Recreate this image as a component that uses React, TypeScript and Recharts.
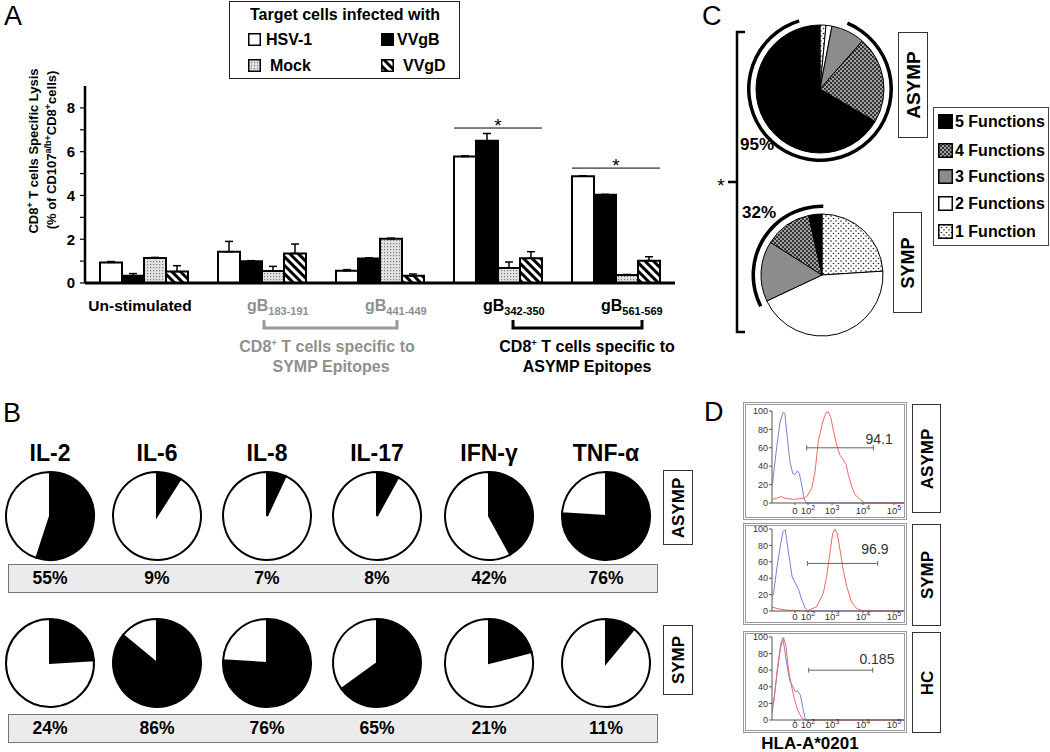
import React from 'react';
import {
  BarChart, Bar, XAxis, YAxis, ErrorBar, LabelList,
  PieChart, Pie, Cell,
  LineChart, Line, ReferenceLine, ReferenceDot,
} from 'recharts';

const FONT = '"Liberation Sans", Arial, Helvetica, sans-serif';

// ---------------- Panel A data ----------------
const groups = ['Un-stimulated', 'gB183-191', 'gB441-449', 'gB342-350', 'gB561-569'];
const groupSub = ['', '183-191', '441-449', '342-350', '561-569'];
const groupColor = ['#000', '#8f8f8f', '#8f8f8f', '#000', '#000'];
const hsv1 = [0.94, 1.43, 0.56, 5.78, 4.88];
const hsv1Err = [0.04, 0.47, 0.05, 0.03, 0.02];
const vvgb = [0.33, 0.99, 1.12, 6.5, 4.03];
const vvgbErr = [0.1, 0.03, 0.03, 0.33, 0.02];
const mock = [1.14, 0.55, 2.02, 0.68, 0.37];
const mockErr = [0.03, 0.21, 0.03, 0.28, 0.02];
const vvgd = [0.52, 1.35, 0.33, 1.13, 1.02];
const vvgdErr = [0.27, 0.43, 0.08, 0.3, 0.18];
const sigLevel = [null, null, null, 7.08, 5.25];
const lysisTicks = [0, 1, 2, 3, 4, 5, 6, 7, 8];

// ---------------- Panel B data ----------------
const cytokines = ['IL-2', 'IL-6', 'IL-8', 'IL-17', 'IFN-γ', 'TNF-α'];
const asympPct = [55, 9, 7, 8, 42, 76];
const sympPct = [24, 86, 76, 65, 21, 11];

// ---------------- Panel C data ----------------
const funcLabels = ['5 Functions', '4 Functions', '3 Functions', '2 Functions', '1 Function'];
const funcFills = ['#000', 'url(#pCheck)', '#8c8c8c', '#fff', 'url(#pDots)'];
const asympFunc = [66.5, 22, 8.5, 1.5, 1.5];
const sympFunc = [3.5, 12.5, 16, 44, 24];
const asympArc = 89;
const sympArc = 32.8;
const asympArcLabel = '95%';
const sympArcLabel = '32%';

// ---------------- Panel D data ----------------
const flowYTicks = [0, 20, 40, 60, 80, 100];
const flowXTicks = [174, 273, 455, 689, 924];
const flowXExp = ['', '2', '3', '4', '5'];
const asympBlueX = [3, 35, 61, 86, 98, 111, 136, 157, 174, 192, 207, 225, 242, 258, 1000];
const asympBlueY = [20, 60, 88, 99, 97, 78, 45, 32, 31, 35, 32, 20, 5, 0, 0];
const asympRedX = [3, 35, 73, 98, 162, 237, 263, 301, 326, 351, 384, 409, 427, 444, 465, 490, 515, 540, 561, 578, 604, 629, 667, 705, 1000];
const asympRedY = [4, 5, 7, 5, 4, 5, 7, 16, 34, 67, 88, 98, 99, 94, 79, 63, 52, 47, 42, 31, 18, 9, 4, 0, 0];
const sympBlueX = [0, 13, 38, 63, 83, 101, 114, 134, 152, 177, 202, 227, 253, 268, 1000];
const sympBlueY = [18, 22, 54, 79, 97, 99, 83, 62, 42, 34, 26, 13, 3, 0, 0];
const sympRedX = [0, 38, 114, 263, 338, 389, 414, 439, 460, 477, 495, 515, 540, 566, 603, 641, 692, 1000];
const sympRedY = [5, 3, 1, 0, 5, 22, 42, 71, 95, 100, 94, 75, 50, 30, 11, 3, 0, 0];
const hcBlueX = [0, 13, 38, 63, 81, 96, 114, 134, 152, 177, 194, 215, 235, 253, 1000];
const hcBlueY = [18, 22, 56, 85, 99, 85, 65, 48, 42, 34, 35, 30, 14, 0, 0];
const hcRedX = [0, 18, 43, 68, 88, 106, 126, 146, 169, 194, 227, 253, 1000];
const hcRedY = [8, 28, 65, 93, 99, 89, 60, 42, 26, 12, 2, 0, 0];
const flowGroups = ['ASYMP', 'SYMP', 'HC'];
const gateStart = [263, 268, 278];
const gateEnd = [768, 801, 763];
const gateLevel = [60, 58, 60];
const gateText = ['94.1', '96.9', '0.185'];
const gateTextX = [811, 780, 795];
const gateTextY = [70, 75, 73];

const zip = (xs: number[], ys: number[]) => xs.map((x, i) => ({ x, y: ys[i] }));

const barRows = groups.map((g, i) => ({
  group: g,
  hsv1: hsv1[i], hsv1E: [0, hsv1Err[i]],
  vvgb: vvgb[i], vvgbE: [0, vvgbErr[i]],
  mock: mock[i], mockE: [0, mockErr[i]],
  vvgd: vvgd[i], vvgdE: [0, vvgdErr[i]],
  sig: sigLevel[i],
}));

// ---------- helpers ----------
const Txt = ({ x, y, size = 16, weight = 'bold', color = '#000', anchor = 'middle', children, family = FONT }: any) => (
  <div style={{
    position: 'absolute', left: x, top: y, whiteSpace: 'nowrap', lineHeight: 1,
    transform: `translate(${anchor === 'middle' ? '-50%' : '0'}, -50%)`,
    fontSize: size, fontWeight: weight, color, fontFamily: family,
  }}>{children}</div>
);

const VBox = ({ left, top, width, height, text, size = 17 }: any) => (
  <div style={{
    position: 'absolute', left, top, width, height, boxSizing: 'border-box',
    border: '1.5px solid #333', background: '#fff',
  }}>
    <div style={{
      position: 'absolute', left: '50%', top: '50%', whiteSpace: 'nowrap', lineHeight: 1,
      transform: 'translate(-50%, -50%) rotate(-90deg)', fontSize: size, fontWeight: 'bold', fontFamily: FONT,
    }}>{text}</div>
  </div>
);

const Swatch = ({ fill, size = 13 }: any) => (
  <svg width={size} height={size} style={{ position: 'absolute', left: 0, top: 0 }}>
    <rect x={0.75} y={0.75} width={size - 1.5} height={size - 1.5} fill={fill} stroke="#000" strokeWidth={1.5} />
  </svg>
);

const SwatchAt = ({ left, top, fill, size = 13 }: any) => (
  <div style={{ position: 'absolute', left, top, width: size, height: size }}>
    <Swatch fill={fill} size={size} />
  </div>
);

const Sup = ({ children }: any) => (
  <sup style={{ fontSize: '0.6em', verticalAlign: '0.6em', lineHeight: 0 }}>{children}</sup>
);

const SigMark = (props: any) => {
  const { index, value } = props;
  const vb = props.viewBox || props;
  if (value == null || index == null || !vb || vb.height == null) return null;
  const base = vb.y + vb.height;
  const ppu = vb.height / hsv1[index];
  const ly = base - value * ppu;
  const x1 = vb.x;
  const x2 = vb.x + vb.width * 4;
  return (
    <g>
      <line x1={x1} x2={x2} y1={ly} y2={ly} stroke="#000" strokeWidth={1} />
      <text x={(x1 + x2) / 2} y={ly + 4} textAnchor="middle" fontSize={19} fontFamily={FONT} fill="#000">*</text>
    </g>
  );
};

const GroupTick = (props: any) => {
  const { x, y, payload } = props;
  const i = groups.indexOf(payload.value);
  if (i === 0) {
    return (
      <text x={x - 4} y={y + 20} textAnchor="middle" fontSize={15.5} fontWeight="bold" fontFamily={FONT} fill="#000">
        {groups[0]}
      </text>
    );
  }
  return (
    <text x={x - 15} y={y + 20} fontWeight="bold" fontFamily={FONT} fill={groupColor[i]}>
      <tspan fontSize={16}>gB</tspan>
      <tspan fontSize={11} dy={4}>{groupSub[i]}</tspan>
    </text>
  );
};

const makeFlowXTick = (off: number) => (props: any) => {
  const { x, y, payload } = props;
  const i = flowXTicks.indexOf(payload.value);
  const e = flowXExp[i];
  return (
    <text x={x} y={y + off} textAnchor="middle" fontSize={9.5} fill="#333" fontFamily={FONT}>
      {e ? (<>10<tspan dy={-4} fontSize={7}>{e}</tspan></>) : '0'}
    </text>
  );
};

const flowSeries = [
  { blue: zip(asympBlueX, asympBlueY), red: zip(asympRedX, asympRedY) },
  { blue: zip(sympBlueX, sympBlueY), red: zip(sympRedX, sympRedY) },
  { blue: zip(hcBlueX, hcBlueY), red: zip(hcRedX, hcRedY) },
];
const flowLayout = [
  { top: 402, height: 118, mt: 9, axisH: 17, off: 8 },
  { top: 523, height: 102, mt: 6, axisH: 14, off: 6 },
  { top: 631, height: 102, mt: 6, axisH: 13, off: 5 },
];
const flowLabelBox = [
  { top: 404, height: 109 },
  { top: 524, height: 102 },
  { top: 632, height: 101 },
];

const FlowPlot = ({ i }: any) => {
  const L = flowLayout[i];
  const S = flowSeries[i];
  const g0 = gateStart[i], g1 = gateEnd[i], gy = gateLevel[i];
  const TickC = makeFlowXTick(L.off);
  return (
    <>
      <div style={{ position: 'absolute', left: 743, top: L.top, width: 164, height: L.height }}>
        <LineChart width={164} height={L.height} margin={{ top: L.mt, right: 3, bottom: 0, left: 0 }}>
          <XAxis type="number" dataKey="x" domain={[0, 1000]} ticks={flowXTicks} tick={<TickC />}
            height={L.axisH} tickSize={2} tickMargin={1} interval={0}
            tickLine={{ stroke: '#555' }} axisLine={{ stroke: '#555' }} allowDataOverflow />
          <YAxis type="number" domain={[0, 100]} ticks={flowYTicks} width={29} interval={0}
            tick={{ fontSize: 9, fill: '#333', fontFamily: FONT }} tickSize={3} tickMargin={1}
            axisLine={{ stroke: '#555' }} tickLine={{ stroke: '#555' }} />
          <Line data={S.blue} dataKey="y" type="linear" stroke="#7b7fd4" strokeWidth={1} dot={false} isAnimationActive={false} />
          <Line data={S.red} dataKey="y" type="linear" stroke="#f06868" strokeWidth={1} dot={false} isAnimationActive={false} />
          <ReferenceLine segment={[{ x: g0, y: gy }, { x: g1, y: gy }]} stroke="#666" strokeWidth={1} />
          <ReferenceLine segment={[{ x: g0, y: gy - 3 }, { x: g0, y: gy + 3 }]} stroke="#666" strokeWidth={1} />
          <ReferenceLine segment={[{ x: g1, y: gy - 3 }, { x: g1, y: gy + 3 }]} stroke="#666" strokeWidth={1} />
          <ReferenceDot x={gateTextX[i]} y={gateTextY[i]} r={1} fill="none" stroke="none"
            label={{ value: gateText[i], position: 'center', fontSize: 14, fill: '#333', fontFamily: FONT }} />
        </LineChart>
      </div>
      <div style={{
        position: 'absolute', left: 743, top: L.top, width: 164, height: L.height, boxSizing: 'border-box',
        border: '3px double #9a9a9a', pointerEvents: 'none',
      }} />
      <VBox left={912} top={flowLabelBox[i].top} width={29} height={flowLabelBox[i].height} text={flowGroups[i]} size={17} />
    </>
  );
};

const bPieX = [50, 157, 267, 377, 489, 606];

export default function App() {
  const cPie = (vals: number[]) =>
    [4, 3, 2, 1, 0].map((k) => ({ name: funcLabels[k], v: vals[k], fill: funcFills[k] }));
  return (
    <div style={{ position: 'absolute', left: 0, top: 0, width: 1050, height: 752, background: '#fff', overflow: 'hidden', fontFamily: FONT }}>
      <svg width={0} height={0} style={{ position: 'absolute' }}>
        <defs>
          <pattern id="pMock" width={3} height={3} patternUnits="userSpaceOnUse">
            <rect width={3} height={3} fill="#e2e2e2" />
            <rect width={1.2} height={1.2} fill="#7a7a7a" />
          </pattern>
          <pattern id="pHatch" width={6} height={6} patternUnits="userSpaceOnUse" patternTransform="rotate(-45)">
            <rect width={6} height={6} fill="#fff" />
            <rect width={3} height={6} fill="#000" />
          </pattern>
          <pattern id="pCheck" width={4} height={4} patternUnits="userSpaceOnUse">
            <rect width={4} height={4} fill="#a0a0a0" />
            <rect width={2} height={2} fill="#333" />
            <rect x={2} y={2} width={2} height={2} fill="#333" />
          </pattern>
          <pattern id="pDots" width={5} height={5} patternUnits="userSpaceOnUse">
            <rect width={5} height={5} fill="#fff" />
            <circle cx={1} cy={1} r={0.8} fill="#222" />
            <circle cx={3.5} cy={3.5} r={0.8} fill="#222" />
          </pattern>
        </defs>
      </svg>

      {/* ================= Panel A ================= */}
      <Txt x={4} y={16} size={27} weight="normal" anchor="start">A</Txt>
      <div style={{ position: 'absolute', left: 0, top: 0 }}>
        <BarChart width={700} height={330} data={barRows} margin={{ top: 86, right: 25, bottom: 7, left: 0 }}
          barCategoryGap={15} barGap={0}>
          <XAxis dataKey="group" height={40} tickLine={false} axisLine={{ stroke: '#000', strokeWidth: 3 }}
            tick={<GroupTick />} interval={0} />
          <YAxis width={85} domain={[0, 9]} ticks={lysisTicks} interval={0}
            tickFormatter={(v: number) => (v % 2 === 0 ? String(v) : '')}
            axisLine={{ stroke: '#000', strokeWidth: 2.5 }} tickLine={{ stroke: '#000', strokeWidth: 1.2 }}
            tickSize={5} tickMargin={5}
            tick={{ fontSize: 15, fontWeight: 'bold', fill: '#000', fontFamily: FONT }} />
          <Bar dataKey="hsv1" fill="#fff" stroke="#000" strokeWidth={2} isAnimationActive={false}>
            <ErrorBar dataKey="hsv1E" width={4} stroke="#000" strokeWidth={1.5} />
            <LabelList dataKey="sig" content={SigMark} />
          </Bar>
          <Bar dataKey="vvgb" fill="#000" stroke="#000" strokeWidth={2} isAnimationActive={false}>
            <ErrorBar dataKey="vvgbE" width={4} stroke="#000" strokeWidth={1.5} />
          </Bar>
          <Bar dataKey="mock" fill="url(#pMock)" stroke="#000" strokeWidth={2} isAnimationActive={false}>
            <ErrorBar dataKey="mockE" width={4} stroke="#000" strokeWidth={1.5} />
          </Bar>
          <Bar dataKey="vvgd" fill="url(#pHatch)" stroke="#000" strokeWidth={2} isAnimationActive={false}>
            <ErrorBar dataKey="vvgdE" width={4} stroke="#000" strokeWidth={1.5} />
          </Bar>
        </BarChart>
      </div>

      {/* Y axis title */}
      <svg width={80} height={300} style={{ position: 'absolute', left: 0, top: 0 }}>
        <text transform="translate(38,151) rotate(-90)" textAnchor="middle" fontSize={13} fontWeight="bold" fontFamily={FONT}>
          CD8<tspan dy={-5} fontSize={9}>+</tspan><tspan dy={5}> T cells Specific Lysis</tspan>
        </text>
        <text transform="translate(56,150) rotate(-90)" textAnchor="middle" fontSize={13} fontWeight="bold" fontFamily={FONT}>
          (% of CD107<tspan dy={-5} fontSize={9}>a/b+</tspan><tspan dy={5}>CD8</tspan><tspan dy={-5} fontSize={9}>+</tspan><tspan dy={5}>cells)</tspan>
        </text>
      </svg>

      {/* Legend A */}
      <div style={{ position: 'absolute', left: 229, top: 1, width: 231, height: 78, boxSizing: 'border-box', border: '1.5px solid #222' }} />
      <Txt x={345} y={15} size={16}>Target cells infected with</Txt>
      <SwatchAt left={248} top={33} fill="#fff" />
      <Txt x={266} y={40} size={16} anchor="start">HSV-1</Txt>
      <SwatchAt left={381} top={33} fill="#000" />
      <Txt x={397} y={40} size={16} anchor="start">VVgB</Txt>
      <SwatchAt left={248} top={59} fill="url(#pMock)" />
      <Txt x={270} y={66} size={16} anchor="start">Mock</Txt>
      <SwatchAt left={381} top={59} fill="url(#pHatch)" />
      <Txt x={403} y={66} size={16} anchor="start">VVgD</Txt>

      {/* epitope brackets */}
      <svg width={700} height={380} style={{ position: 'absolute', left: 0, top: 0 }}>
        <path d="M264 320 V328 H397 V320" stroke="#999" strokeWidth={3} fill="none" />
        <path d="M513 320 V328 H642 V320" stroke="#000" strokeWidth={3} fill="none" />
      </svg>
      <Txt x={327} y={347} size={16} color="#8f8f8f">CD8<Sup>+</Sup> T cells specific to</Txt>
      <Txt x={331} y={367} size={16} color="#8f8f8f">SYMP Epitopes</Txt>
      <Txt x={587} y={347} size={16}>CD8<Sup>+</Sup> T cells specific to</Txt>
      <Txt x={587} y={367} size={16}>ASYMP Epitopes</Txt>

      {/* ================= Panel B ================= */}
      <Txt x={3} y={413} size={27} weight="normal" anchor="start">B</Txt>
      {cytokines.map((c, i) => (
        <Txt key={'h' + i} x={bPieX[i]} y={453} size={23}>{c}</Txt>
      ))}
      <div style={{ position: 'absolute', left: 8, top: 564, width: 650, height: 29, boxSizing: 'border-box', background: '#ebebeb', border: '1.5px solid #777' }} />
      <div style={{ position: 'absolute', left: 8, top: 714, width: 650, height: 29, boxSizing: 'border-box', background: '#ebebeb', border: '1.5px solid #777' }} />
      {asympPct.map((p, i) => (
        <Txt key={'a' + i} x={bPieX[i]} y={579} size={17.5}>{p}%</Txt>
      ))}
      {sympPct.map((p, i) => (
        <Txt key={'s' + i} x={bPieX[i]} y={729} size={17.5}>{p}%</Txt>
      ))}
      <div style={{ position: 'absolute', left: 0, top: 460 }}>
        <PieChart width={660} height={260} margin={{ top: 0, right: 0, bottom: 0, left: 0 }}>
          {asympPct.map((p, i) => (
            <Pie key={'pa' + i} data={[{ name: 'pos', v: p }, { name: 'neg', v: 100 - p }]} dataKey="v"
              cx={bPieX[i]} cy={56} outerRadius={44} startAngle={90} endAngle={-270}
              stroke="#000" strokeWidth={2} isAnimationActive={false}>
              <Cell fill="#000" />
              <Cell fill="#fff" />
            </Pie>
          ))}
          {sympPct.map((p, i) => (
            <Pie key={'ps' + i} data={[{ name: 'pos', v: p }, { name: 'neg', v: 100 - p }]} dataKey="v"
              cx={bPieX[i]} cy={203} outerRadius={44} startAngle={90} endAngle={-270}
              stroke="#000" strokeWidth={2} isAnimationActive={false}>
              <Cell fill="#000" />
              <Cell fill="#fff" />
            </Pie>
          ))}
        </PieChart>
      </div>
      <VBox left={663} top={470} width={30} height={75} text="ASYMP" size={17} />
      <VBox left={663} top={625} width={30} height={70} text="SYMP" size={17} />

      {/* ================= Panel C ================= */}
      <div style={{ position: 'absolute', left: 700, top: 0 }}>
        <PieChart width={200} height={345} margin={{ top: 0, right: 0, bottom: 0, left: 0 }}>
          <Pie data={cPie(asympFunc)} dataKey="v" cx={120} cy={89} outerRadius={64} startAngle={90} endAngle={-270}
            stroke="#000" strokeWidth={1} isAnimationActive={false}>
            {cPie(asympFunc).map((d, k) => <Cell key={k} fill={d.fill} />)}
          </Pie>
          <Pie data={[{ name: 'arc', v: asympArc }, { name: 'gap', v: 100 - asympArc }]} dataKey="v" cx={120} cy={89}
            innerRadius={69.5} outerRadius={73} startAngle={67.4} endAngle={-292.6} stroke="none" isAnimationActive={false}>
            <Cell fill="#000" />
            <Cell fill="none" />
          </Pie>
          <Pie data={cPie(sympFunc)} dataKey="v" cx={122} cy={275} outerRadius={61} startAngle={90} endAngle={-270}
            stroke="#000" strokeWidth={1} isAnimationActive={false}>
            {cPie(sympFunc).map((d, k) => <Cell key={k} fill={d.fill} />)}
          </Pie>
          <Pie data={[{ name: 'arc', v: sympArc }, { name: 'gap', v: 100 - sympArc }]} dataKey="v" cx={122} cy={275}
            innerRadius={67} outerRadius={70.5} startAngle={207} endAngle={-153} stroke="none" isAnimationActive={false}>
            <Cell fill="#000" />
            <Cell fill="none" />
          </Pie>
        </PieChart>
      </div>
      <svg width={60} height={345} style={{ position: 'absolute', left: 700, top: 0 }}>
        <path d="M45 32 H37 V332 H45" stroke="#000" strokeWidth={2.5} fill="none" />
        <path d="M37 182 H28" stroke="#000" strokeWidth={2.5} fill="none" />
        <text x={21} y={192} textAnchor="middle" fontSize={19} fontFamily={FONT}>*</text>
      </svg>
      <Txt x={702} y={16} size={27} weight="normal" anchor="start">C</Txt>
      <Txt x={757} y={144} size={17}>{asympArcLabel}</Txt>
      <Txt x={759} y={212} size={17}>{sympArcLabel}</Txt>
      <VBox left={898} top={32} width={30} height={106} text="ASYMP" size={19} />
      <VBox left={893} top={212} width={29} height={101} text="SYMP" size={18} />
      <div style={{ position: 'absolute', left: 933, top: 107, width: 116, height: 139, boxSizing: 'border-box', border: '1.3px solid #444' }} />
      {funcLabels.map((f, k) => {
        const cy = [122, 151, 177, 204, 232][k];
        return (
          <React.Fragment key={f}>
            <SwatchAt left={938} top={cy - 8} fill={funcFills[k]} size={15} />
            <Txt x={955} y={cy} size={16} anchor="start">{f}</Txt>
          </React.Fragment>
        );
      })}

      {/* ================= Panel D ================= */}
      <Txt x={704} y={412} size={27} weight="normal" anchor="start">D</Txt>
      <FlowPlot i={0} />
      <FlowPlot i={1} />
      <FlowPlot i={2} />
      <Txt x={810} y={743} size={17}>HLA-A*0201</Txt>
    </div>
  );
}
